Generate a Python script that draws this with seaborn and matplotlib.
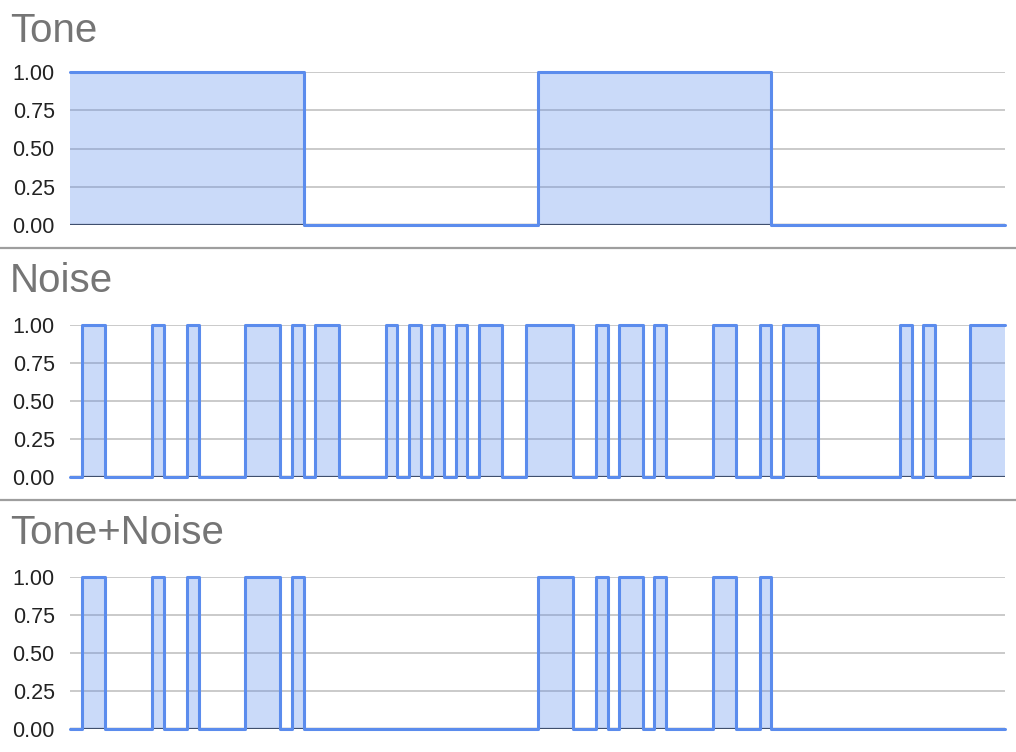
import numpy as np
import pandas as pd
import seaborn as sns
import matplotlib.pyplot as plt
from matplotlib.lines import Line2D

sns.set_theme(style="white")
plt.rcParams['font.family'] = ['Liberation Sans', 'DejaVu Sans']

# one bit per time step, 80 steps
tone = [1] * 20 + [0] * 20 + [1] * 20 + [0] * 20
noise = [0, 1, 1, 0, 0, 0, 0, 1, 0, 0,
         1, 0, 0, 0, 0, 1, 1, 1, 0, 1,
         0, 1, 1, 0, 0, 0, 0, 1, 0, 1,
         0, 1, 0, 1, 0, 1, 1, 0, 0, 1,
         1, 1, 1, 0, 0, 1, 0, 1, 1, 0,
         1, 0, 0, 0, 0, 1, 1, 0, 0, 1,
         0, 1, 1, 1, 0, 0, 0, 0, 0, 0,
         0, 1, 0, 1, 0, 0, 0, 1, 1, 1]
tone_noise = [0, 1, 1, 0, 0, 0, 0, 1, 0, 0,
              1, 0, 0, 0, 0, 1, 1, 1, 0, 1,
              0, 0, 0, 0, 0, 0, 0, 0, 0, 0,
              0, 0, 0, 0, 0, 0, 0, 0, 0, 0,
              1, 1, 1, 0, 0, 1, 0, 1, 1, 0,
              1, 0, 0, 0, 0, 1, 1, 0, 0, 1,
              0, 0, 0, 0, 0, 0, 0, 0, 0, 0,
              0, 0, 0, 0, 0, 0, 0, 0, 0, 0]

titles = ["Tone", "Noise", "Tone+Noise"]
series = [tone, noise, tone_noise]
yticks = [0.0, 0.25, 0.5, 0.75, 1.0]

line_col = "#5b8ced"

W, H = 1016, 752
fig = plt.figure(figsize=(W / 100, H / 100), dpi=100)

# panel geometry in pixels: (y of 1.00 line, y of 0.00 line, title baseline)
panels = [(72, 225, 42), (325, 477, 292), (577, 729, 544)]
x0, x1 = 70, 1005

for (ytop, ybot, tbase), name, vals in zip(panels, titles, series):
    ax = fig.add_axes([x0 / W, 1 - ybot / H, (x1 - x0) / W, (ybot - ytop) / H])
    df = pd.DataFrame({"t": np.arange(len(vals) + 1), "v": vals + [vals[-1]]})

    for yt in yticks[1:]:
        ax.axhline(yt, color="#c6c6c6", linewidth=1.3, zorder=0.5)
    ax.axhline(0, color="#333333", linewidth=1.6, zorder=0.6)
    ax.fill_between(df["t"], df["v"], step="post", color=line_col, alpha=0.32,
                    linewidth=0, zorder=1)
    sns.lineplot(data=df, x="t", y="v", ax=ax, drawstyle="steps-post",
                 color=line_col, linewidth=2.2, zorder=3, clip_on=False)

    ax.set_xlim(0, len(vals))
    ax.set_ylim(0, 1)
    ax.set_yticks(yticks)
    ax.set_yticklabels([f"{v:.2f}" for v in yticks], fontsize=15.5, color="#222222")
    ax.set_xticks([])
    ax.set_xlabel("")
    ax.set_ylabel("")
    ax.tick_params(axis="y", length=0, pad=11)
    for s in ax.spines.values():
        s.set_visible(False)

    fig.text(10 / W, 1 - tbase / H, name, fontsize=29, color="#757575", va="baseline", ha="left")

# separators between the panels
for ysep in (248, 500):
    fig.add_artist(Line2D([0, 1], [1 - ysep / H] * 2, color="#9e9e9e", linewidth=1.6,
                          transform=fig.transFigure))

fig.savefig("out.png", dpi=100, facecolor="white")
